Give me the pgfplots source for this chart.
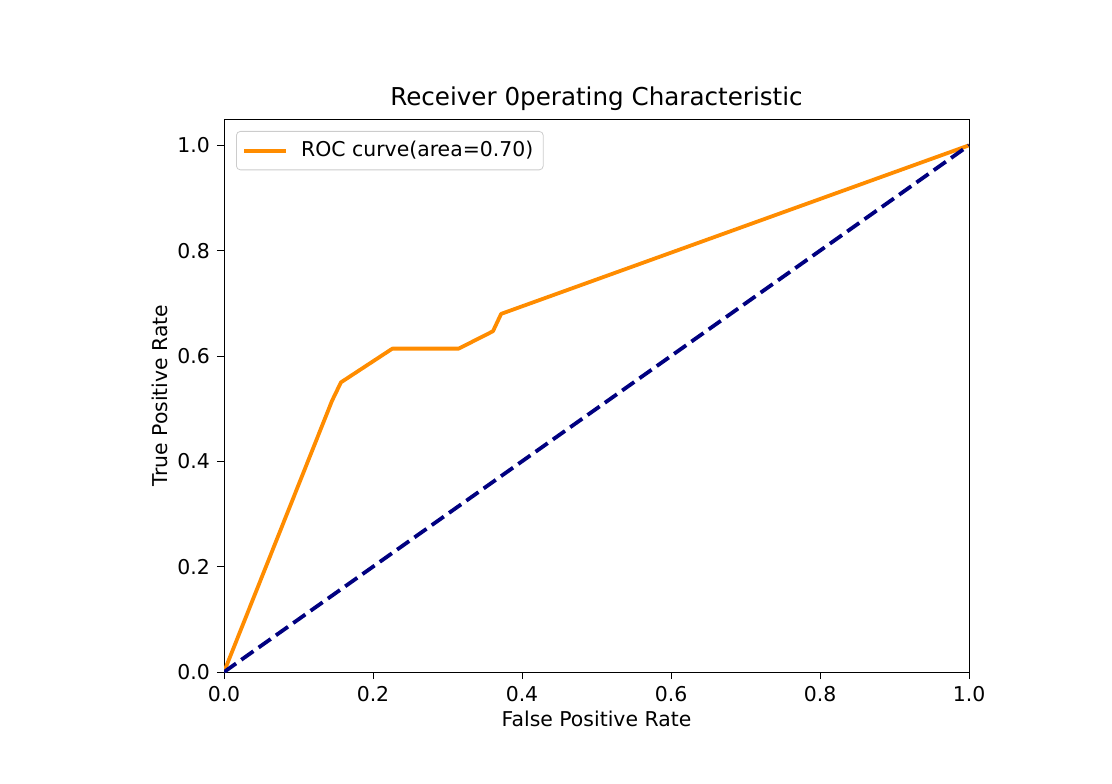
\documentclass[border=0pt]{standalone}
\usepackage{fontspec}
\setmainfont{DejaVu Sans}
\usepackage{pgfplots}
\pgfplotsset{compat=1.18}
\definecolor{darkorange}{HTML}{FF8C00}
\definecolor{mplnavy}{HTML}{000080}
\begin{document}
\begin{tikzpicture}
\path[use as bounding box] (0,0) rectangle (556pt,391.5pt);
\begin{axis}[
  at={(112pt,55.5pt)}, anchor=south west,
  width=372.5pt, height=276.5pt, scale only axis,
  xmin=0, xmax=1, ymin=0, ymax=1.05,
  xtick={0,0.2,0.4,0.6,0.8,1.0},
  ytick={0,0.2,0.4,0.6,0.8,1.0},
  xticklabel style={/pgf/number format/.cd,fixed,fixed zerofill,precision=1},
  yticklabel style={/pgf/number format/.cd,fixed,fixed zerofill,precision=1},
  /pgf/number format/assume math mode=true,
  tick align=outside, tick pos=left,
  major tick length=3.6pt,
  every tick/.style={black, line width=0.4pt},
  axis line style={line width=0.4pt},
  ticklabel style={font=\fontsize{10.2}{12}\selectfont},
  label style={font=\fontsize{10.2}{12}\selectfont},
  title style={font=\fontsize{12.3}{14}\selectfont, yshift=-5.5pt},
  title={Receiver 0perating Characteristic},
  xlabel={False Positive Rate},
  ylabel={True Positive Rate},
  xlabel style={yshift=2pt},
  ylabel style={yshift=-2pt},
  legend style={at={(0,1)}, anchor=north west, xshift=6pt, yshift=-6pt,
    draw=black!20, rounded corners=2pt, font=\fontsize{10.2}{12}\selectfont,
    inner sep=3pt, row sep=0pt},
  legend cell align=left,
  legend image code/.code={\draw[#1] (0pt,0pt) -- (21pt,0pt); \path (25.5pt,0pt);},
]
\addplot[darkorange, line width=1.9pt, line join=round] coordinates {
  (0,0) (0.145,0.515) (0.157,0.550) (0.226,0.614) (0.315,0.614)
  (0.361,0.647) (0.372,0.680) (1,1)
};
\addlegendentry{ROC curve(area=0.70)}
\addplot[mplnavy, line width=1.9pt, dash pattern=on 7.4pt off 3.2pt, forget plot] coordinates {
  (0,0) (1,1)
};
\end{axis}
\end{tikzpicture}
\end{document}
